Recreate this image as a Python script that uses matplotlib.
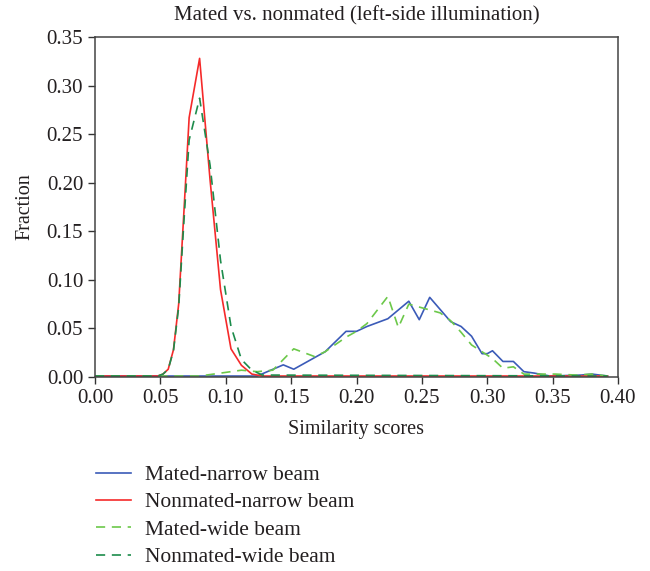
import matplotlib
matplotlib.use("Agg")
import matplotlib.pyplot as plt

plt.rcParams['font.family'] = ['Liberation Serif', 'DejaVu Serif']
plt.rcParams['font.size'] = 14

# similarity-score histograms (vertices of each curve)
mated_narrow_x = [0.000, 0.124, 0.144, 0.152, 0.176, 0.192, 0.200, 0.208, 0.216, 0.224,
                  0.240, 0.248, 0.256, 0.272, 0.280, 0.288, 0.296, 0.300, 0.304, 0.312,
                  0.320, 0.328, 0.336, 0.348, 0.372, 0.380, 0.392]
mated_narrow_y = [0.001, 0.001, 0.0125, 0.008, 0.026, 0.047, 0.047, 0.052, 0.056, 0.060,
                  0.078, 0.059, 0.082, 0.057, 0.052, 0.042, 0.024, 0.024, 0.027, 0.016,
                  0.016, 0.0055, 0.004, 0.001, 0.002, 0.003, 0.001]

nonmated_narrow_x = [0.000, 0.048, 0.052, 0.056, 0.060, 0.064, 0.068, 0.072, 0.080, 0.088,
                     0.096, 0.104, 0.112, 0.120, 0.128, 0.392]
nonmated_narrow_y = [0.001, 0.001, 0.003, 0.008, 0.028, 0.075, 0.170, 0.267, 0.328, 0.203,
                     0.090, 0.029, 0.012, 0.003, 0.001, 0.001]

mated_wide_x = [0.000, 0.080, 0.112, 0.124, 0.136, 0.152, 0.168, 0.176, 0.192, 0.200,
                0.208, 0.224, 0.232, 0.240, 0.256, 0.264, 0.272, 0.280, 0.288, 0.296,
                0.304, 0.312, 0.320, 0.328, 0.352, 0.368, 0.380, 0.392]
mated_wide_y = [0.001, 0.001, 0.007, 0.0055, 0.007, 0.029, 0.021, 0.026, 0.041, 0.047,
                0.055, 0.083, 0.051, 0.075, 0.069, 0.066, 0.058, 0.046, 0.033, 0.026,
                0.019, 0.009, 0.0105, 0.003, 0.003, 0.002, 0.003, 0.001]

nonmated_wide_x = [0.000, 0.048, 0.052, 0.056, 0.060, 0.064, 0.068, 0.072, 0.080, 0.088,
                   0.096, 0.104, 0.112, 0.120, 0.128, 0.392]
nonmated_wide_y = [0.001, 0.001, 0.003, 0.008, 0.027, 0.072, 0.160, 0.244, 0.287, 0.218,
                   0.120, 0.052, 0.018, 0.007, 0.002, 0.001]

txt = '#231f20'

fig = plt.figure(figsize=(6.5, 5.71), dpi=100)
ax = fig.add_axes([95/650, 1 - 377/571, 523/650, 340/571])

ax.plot(mated_narrow_x, mated_narrow_y, color='#3b5bb8', lw=1.2, label='Mated-narrow beam')
ax.plot(nonmated_narrow_x, nonmated_narrow_y, color='#f52a2a', lw=1.2, label='Nonmated-narrow beam')
ax.plot(mated_wide_x, mated_wide_y, color='#6cc84a', lw=1.2, ls=(0, (5.5, 4)), label='Mated-wide beam')
ax.plot(nonmated_wide_x, nonmated_wide_y, color='#1d8c4c', lw=1.2, ls=(0, (5.5, 4)), label='Nonmated-wide beam')

ax.set_xlim(0, 0.40)
ax.set_ylim(0, 0.35)
ax.set_xticks([i * 0.05 for i in range(9)])
ax.set_yticks([i * 0.05 for i in range(8)])
ax.xaxis.set_major_formatter(matplotlib.ticker.FormatStrFormatter('%.2f'))
ax.yaxis.set_major_formatter(matplotlib.ticker.FormatStrFormatter('%.2f'))
ax.tick_params(direction='out', length=5, width=1, color='#333333', labelsize=15, labelcolor=txt)
for s in ax.spines.values():
    s.set_color('#444444')
    s.set_linewidth(1.1)

ax.set_title('Mated vs. nonmated (left-side illumination)', fontsize=15, color=txt, pad=12)
ax.set_xlabel('Similarity scores', fontsize=14.5, color=txt, labelpad=9)
ax.set_ylabel('Fraction', fontsize=14.5, color=txt, labelpad=9)

fig.legend(loc='upper left', bbox_to_anchor=(96/650, 1 - 465/571), frameon=False,
           borderpad=0, borderaxespad=0,
           handlelength=1.63, handletextpad=0.65, labelspacing=0.34, fontsize=15.5,
           labelcolor=txt)

fig.savefig('out.png', dpi=100)
